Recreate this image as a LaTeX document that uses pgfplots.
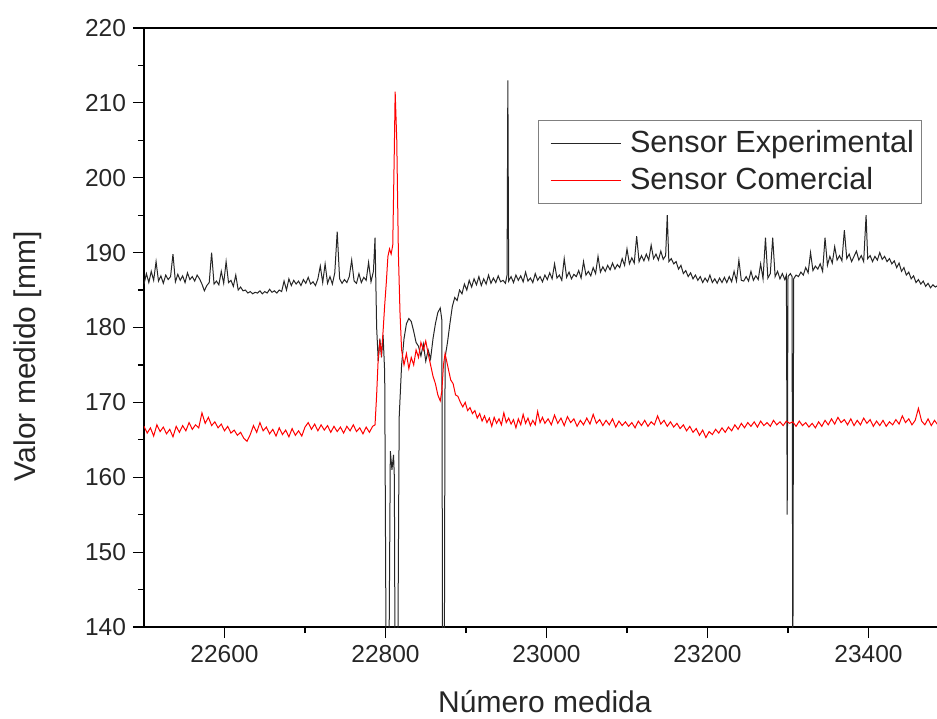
\documentclass[border=0pt]{standalone}
\usepackage{fontspec}
\setmainfont{Liberation Sans}
\usepackage{pgfplots}
\pgfplotsset{compat=1.18}
\begin{document}
\begin{tikzpicture}
\useasboundingbox (0,0) rectangle (468.5pt,359pt);
\begin{axis}[
  at={(72pt,45.5pt)}, anchor=south west,
  scale only axis, width=402.5pt, height=299.5pt,
  xmin=22500, xmax=23500, ymin=140, ymax=220,
  xtick={22600,22800,23000,23200,23400},
  minor x tick num=1,
  ytick={140,150,...,220},
  minor y tick num=1,
  xtick pos=bottom, ytick pos=left,
  tick align=outside,
  major tick length=5.5pt, minor tick length=3pt,
  scaled x ticks=false,
  /pgf/number format/1000 sep={},
  /pgf/number format/assume math mode=true,
  tick label style={font=\fontsize{12.25}{14}\selectfont, text=black!85},
  axis line style={line width=0.6pt},
  every tick/.style={line width=0.6pt, black},
  xlabel={Número medida},
  ylabel={Valor medido [mm]},
  label style={font=\fontsize{15}{18}\selectfont, text=black!85},
  xlabel style={at={(axis description cs:0.498,0)}, anchor=base, yshift=-42.5pt},
  ylabel style={at={(axis description cs:0,0.452)}, anchor=center, yshift=58pt},
  legend style={at={(0.489,0.846)}, anchor=north west, draw=gray, line width=0.4pt,
    font=\fontsize{15.3}{18}\selectfont, text=black!85,
    inner xsep=2pt, inner ysep=3.5pt, row sep=3pt, column sep=3pt,
    nodes={inner sep=1.5pt}},
  legend cell align=left,
  legend image code/.code={\path (0pt,0pt); \draw[#1] (4pt,0pt) -- (39pt,0pt);},
]
\addplot[black!85, line width=0.5pt] table {
x y
22500 185.8
22503 187.2
22506 186.0
22509 187.5
22512 186.3
22515 188.8
22518 186.2
22521 186.9
22524 185.9
22527 187.0
22530 186.4
22533 186.8
22536 189.8
22539 186.1
22542 187.1
22545 186.3
22548 186.9
22551 186.0
22554 187.3
22557 186.4
22560 186.8
22563 186.2
22566 187.0
22569 186.5
22572 185.8
22575 184.9
22578 185.6
22581 186.0
22584 190.0
22587 185.8
22590 186.2
22593 185.7
22596 187.5
22599 185.9
22602 188.8
22605 186.0
22608 186.3
22611 185.5
22614 187.0
22617 185.0
22620 185.4
22623 184.9
22626 185.0
22629 184.6
22632 184.8
22635 184.5
22638 184.7
22641 184.6
22644 184.9
22647 184.5
22650 184.8
22653 184.6
22656 185.1
22659 184.7
22662 184.9
22665 184.6
22668 185.0
22671 184.8
22674 186.2
22677 185.0
22680 186.5
22683 185.6
22686 186.3
22689 185.8
22692 186.2
22695 185.6
22698 186.4
22701 185.9
22704 186.7
22707 185.8
22710 186.1
22713 185.6
22716 186.5
22719 188.2
22722 186.0
22725 188.5
22728 185.9
22731 186.8
22734 185.8
22737 187.3
22740 192.8
22743 186.5
22746 185.9
22749 186.4
22752 186.0
22755 186.8
22758 189.0
22761 186.2
22764 185.9
22767 187.2
22770 186.0
22773 186.7
22776 186.3
22779 188.7
22782 186.1
22785 187.5
22787 192.0
22789 180.0
22791 175.5
22793 178.5
22795 176.0
22797 179.0
22799 174.0
22801 130
22804 130
22806 163.5
22808 161.0
22810 163.0
22811 160.0
22812 130
22815 130
22817 168
22820 175
22823 178.5
22826 180.5
22829 181.2
22832 180.8
22835 179.5
22838 178.0
22841 177.5
22844 176.2
22847 177.8
22850 175.5
22853 177.0
22856 175.8
22859 178.5
22862 180.5
22865 182.0
22868 182.6
22870 181.0
22871 130
22873 130
22874 176
22877 178
22880 180.5
22883 182.8
22886 184.0
22889 183.6
22892 185.0
22895 184.5
22898 185.8
22901 185.0
22904 186.3
22907 185.4
22910 186.5
22913 185.7
22916 186.8
22919 185.6
22922 186.5
22925 185.8
22928 187.0
22931 185.9
22934 186.6
22937 186.0
22940 186.9
22943 186.1
22946 186.3
22949 185.9
22951 187.0
22952 213.0
22953 186.2
22956 186.8
22959 186.0
22962 187.0
22965 186.3
22968 186.9
22971 186.1
22974 187.4
22977 186.2
22980 186.6
22983 186.0
22986 187.2
22989 186.3
22992 186.8
22995 186.1
22998 187.0
23001 186.4
23004 187.3
23007 186.5
23010 188.5
23013 186.6
23016 187.0
23019 186.3
23022 189.2
23025 186.7
23028 187.4
23031 186.5
23034 187.1
23037 186.8
23040 187.6
23043 186.6
23046 188.8
23049 187.0
23052 187.5
23055 186.9
23058 188.0
23061 187.2
23064 189.5
23067 187.4
23070 188.1
23073 187.5
23076 188.3
23079 187.7
23082 188.6
23085 187.8
23088 188.4
23091 188.0
23094 189.2
23097 188.3
23100 190.5
23103 188.5
23106 189.3
23109 188.6
23112 192.2
23115 188.8
23118 189.6
23121 188.9
23124 189.8
23127 189.0
23130 191.0
23133 189.2
23136 189.8
23139 189.0
23142 190.2
23145 189.1
23148 189.6
23150 195.0
23152 188.8
23155 189.2
23158 188.5
23161 188.8
23164 187.8
23167 188.3
23170 187.2
23173 187.6
23176 186.8
23179 187.3
23182 186.5
23185 187.0
23188 186.3
23191 186.8
23194 186.0
23197 186.6
23200 186.1
23203 187.0
23206 186.0
23209 186.5
23212 185.9
23215 186.6
23218 186.0
23221 186.7
23224 186.0
23227 186.8
23230 186.1
23233 187.5
23236 186.2
23239 189.0
23242 186.3
23245 186.2
23248 186.8
23251 186.2
23254 187.5
23257 186.3
23260 186.9
23263 186.4
23266 188.5
23269 186.5
23272 192.0
23275 186.6
23278 187.2
23281 192.0
23284 186.8
23287 187.5
23290 186.5
23293 187.2
23296 186.4
23298 187.0
23299 155.0
23300 186.8
23303 187.2
23305 186.8
23306 130
23307 186.5
23310 187.0
23313 186.8
23316 187.4
23319 187.0
23322 188.0
23325 187.3
23328 190.0
23331 187.6
23334 188.2
23337 187.8
23340 188.5
23343 187.5
23346 192.0
23349 188.3
23352 189.5
23355 188.6
23358 190.8
23361 189.0
23364 189.6
23367 188.9
23370 193.0
23373 189.2
23376 189.8
23379 188.8
23382 189.5
23385 190.2
23388 189.0
23391 189.6
23394 188.8
23397 195.0
23399 189.2
23402 189.6
23405 188.8
23408 189.5
23411 189.0
23414 190.0
23417 189.1
23420 189.5
23423 188.8
23426 189.2
23429 188.5
23432 188.9
23435 188.0
23438 188.6
23441 187.5
23444 188.0
23447 187.0
23450 187.4
23453 186.5
23456 186.9
23459 186.0
23462 186.4
23465 185.8
23468 186.2
23471 185.5
23474 185.9
23477 185.3
23480 185.7
23483 185.4
23486 185.6
};
\addlegendentry{Sensor Experimental}
\addplot[red, line width=0.5pt] table {
x y
22500 166.8
22504 165.9
22508 166.6
22512 165.5
22516 167.0
22520 166.1
22524 166.7
22528 165.8
22532 166.4
22536 165.4
22540 166.8
22544 166.0
22548 166.9
22552 166.2
22556 167.3
22560 166.4
22564 167.0
22568 166.6
22572 168.6
22576 167.2
22580 168.0
22584 166.9
22588 167.4
22592 166.6
22596 167.1
22600 166.2
22604 166.8
22608 165.9
22612 166.3
22616 165.6
22620 166.0
22624 165.2
22628 164.8
22632 165.7
22636 166.9
22640 166.0
22644 167.3
22648 166.2
22652 166.7
22656 165.8
22660 166.4
22664 165.5
22668 166.6
22672 165.7
22676 166.3
22680 165.4
22684 166.5
22688 165.6
22692 166.2
22696 165.5
22700 166.7
22704 167.3
22708 166.4
22712 167.1
22716 166.2
22720 167.0
22724 166.3
22728 166.9
22732 166.0
22736 166.8
22740 166.1
22744 166.7
22748 165.9
22752 166.8
22756 166.2
22760 167.0
22764 166.1
22768 166.6
22772 165.8
22776 166.7
22780 166.0
22784 166.8
22787 167.0
22789 171.0
22791 176.0
22793 178.0
22795 176.5
22797 179.5
22799 183.0
22801 186.0
22803 189.5
22805 190.5
22807 189.8
22809 191.0
22811 204.0
22812 211.5
22814 205.0
22816 190.0
22818 182.0
22820 177.0
22823 175.0
22826 176.5
22829 174.5
22832 176.0
22835 175.0
22838 177.0
22841 176.0
22844 178.0
22847 177.0
22850 178.2
22853 176.5
22856 175.0
22859 173.5
22862 172.5
22865 171.0
22868 170.2
22870 171.5
22872 175.0
22874 176.5
22876 175.5
22878 174.5
22881 173.0
22884 172.5
22887 171.0
22890 170.8
22893 170.0
22896 169.4
22899 170.0
22902 168.9
22905 169.3
22908 168.5
22911 168.9
22914 167.9
22917 168.5
22920 167.5
22923 168.2
22926 167.3
22929 167.9
22932 166.8
22935 168.0
22938 167.2
22941 167.8
22944 167.0
22947 168.6
22950 167.3
22953 167.9
22956 167.1
22959 167.7
22962 166.6
22965 167.8
22968 167.0
22971 168.4
22974 167.2
22977 167.9
22980 166.9
22983 167.6
22986 167.0
22989 168.8
22992 167.3
22995 168.0
22998 167.2
23002 167.8
23006 167.0
23010 168.3
23014 167.2
23018 167.9
23022 166.9
23026 168.1
23030 167.3
23034 167.8
23038 166.8
23042 167.6
23046 167.0
23050 167.9
23054 167.1
23058 168.4
23062 167.2
23066 167.7
23070 166.9
23074 167.6
23078 167.0
23082 167.8
23086 166.7
23090 167.5
23094 166.9
23098 167.4
23102 166.8
23106 167.3
23110 166.6
23114 167.5
23118 166.9
23122 167.6
23126 166.8
23130 167.4
23134 167.0
23138 168.2
23142 167.1
23146 167.6
23150 166.8
23154 167.4
23158 166.7
23162 167.2
23166 166.5
23170 167.0
23174 166.2
23178 166.8
23182 166.0
23186 166.5
23190 165.6
23194 166.3
23198 165.3
23202 166.1
23206 165.7
23210 166.4
23214 165.9
23218 166.6
23222 166.0
23226 166.7
23230 166.2
23234 167.0
23238 166.4
23242 167.2
23246 166.6
23250 167.3
23254 166.8
23258 167.4
23262 166.7
23266 167.5
23270 166.9
23274 167.3
23278 166.8
23282 167.6
23286 167.0
23290 167.4
23294 166.9
23298 167.5
23302 167.2
23306 167.4
23310 166.8
23314 167.5
23318 166.9
23322 167.3
23326 166.7
23330 167.2
23334 166.6
23338 167.4
23342 166.8
23346 167.6
23350 167.0
23354 167.8
23358 167.1
23362 168.0
23366 167.3
23370 167.7
23374 167.0
23378 167.8
23382 166.9
23386 167.6
23390 167.0
23394 167.9
23398 167.2
23402 167.7
23406 166.8
23410 167.5
23414 166.9
23418 167.6
23422 166.8
23426 167.4
23430 167.0
23434 167.7
23438 167.1
23442 168.2
23446 167.3
23450 167.8
23454 167.0
23458 167.6
23462 169.2
23466 167.5
23470 167.0
23474 167.8
23478 166.9
23482 167.6
23486 167.0
};
\addlegendentry{Sensor Comercial}
\end{axis}
\end{tikzpicture}
\end{document}
